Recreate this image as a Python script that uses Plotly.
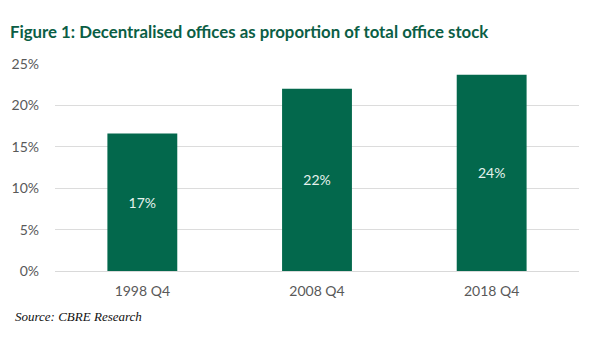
import plotly.graph_objects as go

categories = ["1998 Q4", "2008 Q4", "2018 Q4"]
values = [16.6, 22.0, 23.7]
labels = ["17%", "22%", "24%"]
tick_vals = [0, 5, 10, 15, 20, 25]
tick_text = ["0%", "5%", "10%", "15%", "20%", "25%"]

green = "#03684C"

fig = go.Figure(go.Bar(
    x=categories, y=values, text=labels,
    textposition="inside", insidetextanchor="middle",
    textfont=dict(color="#E6F2EC", size=14, family="Lato"),
    marker=dict(color=green, line=dict(width=0)),
    width=0.4, cliponaxis=False, hoverinfo="skip",
))

fig.update_layout(
    width=600, height=360,
    margin=dict(l=47, r=29, t=56, b=97),
    paper_bgcolor="white", plot_bgcolor="white",
    showlegend=False,
    font=dict(family="Lato", color="#595959", size=14),
    xaxis=dict(showgrid=False, showline=True, linecolor="#d9d9d9", linewidth=1,
               automargin=False,
               ticks="", ticklabelstandoff=7, tickfont=dict(size=14, color="#595959")),
    yaxis=dict(range=[0, 25], tickvals=tick_vals, ticktext=tick_text,
               showgrid=True, gridcolor="#dcdcdc", gridwidth=1,
               zeroline=False, showline=False, ticks="", automargin=False,
               ticklabelstandoff=15,
               tickfont=dict(size=14, color="#595959")),
)
fig.add_annotation(text="<b>Figure 1: Decentralised offices as proportion of total office stock</b>",
                   xref="paper", yref="paper", x=-0.089, y=1.159, xanchor="left", yanchor="middle",
                   showarrow=False, font=dict(family="Lato", size=16.8, color="#0B5E45"))
fig.add_annotation(text="<i>Source: CBRE Research</i>",
                   xref="paper", yref="paper", x=-0.080, y=-0.219, xanchor="left", yanchor="middle",
                   showarrow=False, font=dict(family="Liberation Serif", size=13, color="#111111"))

fig.write_html("out.html")
